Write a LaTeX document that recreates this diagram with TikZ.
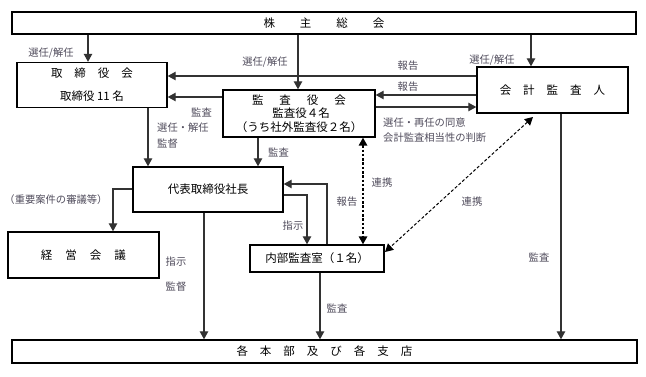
\documentclass[tikz,border=0pt]{standalone}
\usepackage{fontspec}
\setmainfont{Noto Sans CJK JP}
\usetikzlibrary{arrows.meta}
\definecolor{lab}{RGB}{80,76,92}
\definecolor{ln}{RGB}{50,50,50}
\tikzset{
  box/.style={draw=black, line width=1.4pt, inner sep=0pt, font=\fontsize{11.5}{14}\selectfont, align=center},
  tip/.style={},
  arr/.style={draw=ln, line width=1.1pt, -{Triangle[length=8pt,width=8.5pt]}},
  darr/.style={draw=black, line width=1.7pt, dash pattern=on 2.5pt off 1.8pt, {Triangle[length=8pt,width=8.5pt]}-{Triangle[length=8pt,width=8.5pt]}},
  dlarr/.style={draw=black, line width=1pt, dash pattern=on 3pt off 2pt, {Triangle[length=8pt,width=8.5pt]}-{Triangle[length=8pt,width=8.5pt]}},
  lbl/.style={text=lab, font=\fontsize{10.3}{15}\selectfont, inner sep=0pt}
}
\begin{document}
\begin{tikzpicture}[x=1pt,y=-1pt]
\useasboundingbox[fill=white] (0,0) rectangle (646,377);
% boxes
\node[box, minimum width=624pt, minimum height=22pt] (kabu) at (324,23) {株\hspace{25pt}主\hspace{25pt}総\hspace{25pt}会};
\node[box, minimum width=150pt, minimum height=45pt, font=\fontsize{11.5}{23}\selectfont] (tori) at (92,85) {取\hspace{12pt}締\hspace{12pt}役\hspace{12pt}会\\取締役 11 名};
\node[box, minimum width=152pt, minimum height=47pt, font=\fontsize{11.5}{13.5}\selectfont] (kansa) at (299,113.5) {監\hspace{16pt}査\hspace{16pt}役\hspace{16pt}会\\\hspace{4pt}監査役４名\\（うち社外監査役２名）};
\node[box, minimum width=151pt, minimum height=46pt] (kaikei) at (552.5,90) {会\hspace{12pt}計\hspace{12pt}監\hspace{12pt}査\hspace{12pt}人};
\node[box, minimum width=150pt, minimum height=45pt] (daihyo) at (208,189.5) {代表取締役社長};
\node[box, minimum width=151pt, minimum height=46pt] (keiei) at (83.5,255) {経\hspace{13pt}営\hspace{13pt}会\hspace{13pt}議};
\node[box, minimum width=134pt, minimum height=27pt] (naibu) at (317,258.5) {内部監査室（１名）};
\node[box, minimum width=625pt, minimum height=23pt] (kaku) at (324.5,351.5) {各\hspace{12pt}本\hspace{12pt}部\hspace{12pt}及\hspace{12pt}び\hspace{12pt}各\hspace{12pt}支\hspace{12pt}店};
% x / y reference coordinates
\coordinate (c88) at (88,0);
\coordinate (c298) at (298,0);
\coordinate (c531) at (531,0);
\coordinate (c148) at (148,0);
\coordinate (c258) at (258,0);
\coordinate (c204) at (204,0);
\coordinate (c320) at (320,0);
\coordinate (c561) at (561,0);
\coordinate (c363) at (363,0);
\coordinate (y76) at (0,76);
\coordinate (y95) at (0,95);
\coordinate (y97) at (0,97);
\coordinate (y107) at (0,107);
\coordinate (k1) at (113,189);
\coordinate (k2) at (307,195);
\coordinate (k3) at (327,184);
\coordinate (kaiout) at (533,117);
\coordinate (naiin) at (385,252);
% connectors
\draw[arr] (kabu.south -| c88) -- (tori.north -| c88);
\draw[arr] (kabu.south -| c298) -- (kansa.north -| c298);
\draw[arr] (kabu.south -| c531) -- (kaikei.north -| c531);
\draw[arr] (kaikei.west |- y76) -- (tori.east |- y76);
\draw[arr] (kaikei.west |- y95) -- (kansa.east |- y95);
\draw[arr] (kansa.east |- y107) -- (kaikei.west |- y107);
\draw[arr] (kansa.west |- y97) -- (tori.east |- y97);
\draw[arr] (tori.south -| c148) -- (daihyo.north -| c148);
\draw[arr] (kansa.south -| c258) -- (daihyo.north -| c258);
\draw[arr] (daihyo.west |- k1) -- (k1) -- (keiei.north -| k1);
\draw[arr] (daihyo.south -| c204) -- (kaku.north -| c204);
\draw[arr] (daihyo.east |- k2) -- (k2) -- (naibu.north -| k2);
\draw[arr] (naibu.north -| k3) -- (k3) -- (daihyo.east |- k3);
\draw[darr] (kansa.south -| c363) -- (naibu.north -| c363);
\draw[dlarr] (kaiout) -- (naiin);
\draw[arr] (kaikei.south -| c561) -- (kaku.north -| c561);
\draw[arr] (naibu.south -| c320) -- (kaku.north -| c320);
% labels
\node[lbl] (l1) at (51,53) {選任/解任};
\node[lbl] (l2) at (265,62) {選任/解任};
\node[lbl] (l3) at (492,60) {選任/解任};
\node[lbl] (l4) at (408,66) {報告};
\node[lbl] (l5) at (408,87) {報告};
\node[lbl, anchor=west] (l6) at (383,123) {選任・再任の同意};
\node[lbl, anchor=west] (l7) at (383,138) {会計監査相当性の判断};
\node[lbl, anchor=east] (l8) at (212,112) {監査};
\node[lbl, anchor=west] (l9) at (157,128) {選任・解任};
\node[lbl, anchor=west] (l10) at (157,144) {監督};
\node[lbl, anchor=west] (l11) at (268,152) {監査};
\node[lbl] (l12) at (56,200) {（重要案件の審議等）};
\node[lbl] (l13) at (176,262) {指示};
\node[lbl] (l14) at (176,287) {監督};
\node[lbl] (l15) at (293,226) {指示};
\node[lbl] (l16) at (382,183) {連携};
\node[lbl] (l17) at (347,202) {報告};
\node[lbl] (l18) at (472,202) {連携};
\node[lbl] (l19) at (539,257) {監査};
\node[lbl] (l20) at (337,308) {監査};
\end{tikzpicture}
\end{document}
